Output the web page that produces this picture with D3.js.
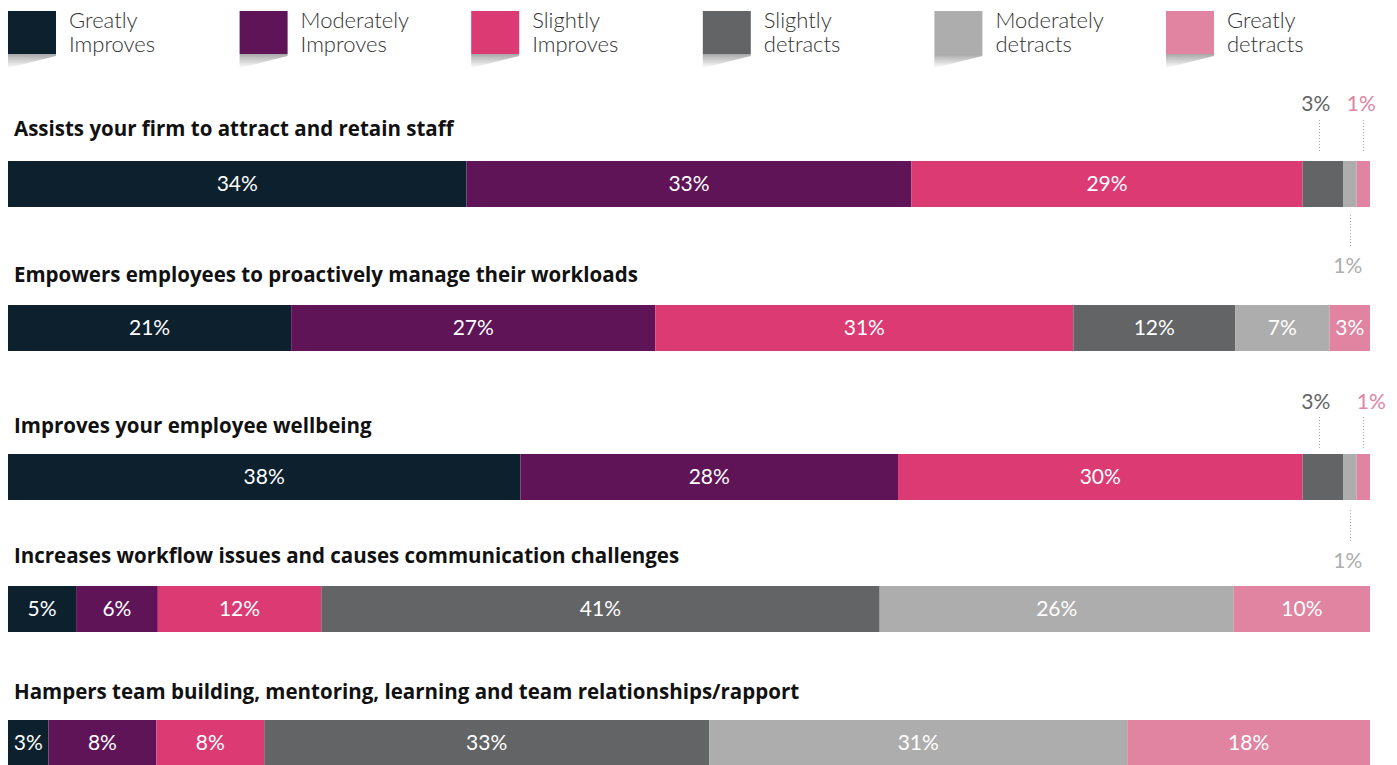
<!DOCTYPE html>
<html>
<head>
<meta charset="utf-8">
<script src="https://cdn.jsdelivr.net/npm/d3@7/dist/d3.min.js"></script>
<style>
  html, body { margin: 0; padding: 0; background: #fff; }
  svg { display: block; font-family: Lato, "Noto Sans", sans-serif; }
  .title { font-family: "Open Sans", "Noto Sans", sans-serif; }
</style>
</head>
<body>
<svg id="chart" width="1397" height="765"></svg>
<script>
// Response categories, left to right
const categories = [
  "Greatly Improves", "Moderately Improves", "Slightly Improves",
  "Slightly detracts", "Moderately detracts", "Greatly detracts"
];
const categoryColors = ["#0c202e", "#5e1457", "#dc3a72", "#636466", "#aeadad", "#e084a2"];

// Statements asked about
const statements = [
  "Assists your firm to attract and retain staff",
  "Empowers employees to proactively manage their workloads",
  "Improves your employee wellbeing",
  "Increases workflow issues and causes communication challenges",
  "Hampers team building, mentoring, learning and team relationships/rapport"
];

// Share of respondents (%) per statement, in category order
const attractRetain   = [34, 33, 29, 3, 1, 1];
const empowers        = [21, 27, 31, 12, 7, 3];
const wellbeing       = [38, 28, 30, 3, 1, 1];
const workflowIssues  = [5, 6, 12, 41, 26, 10];
const hampersTeam     = [3, 8, 8, 33, 31, 18];
const seriesValues = [attractRetain, empowers, wellbeing, workflowIssues, hampersTeam];

// Layout
const barLeft = 8, barRight = 1370, barH = 46;
const rowBarTop = [161, 305, 454, 586, 720];
const titleGap = [25, 23, 21, 23, 21];
// Callout placement: above (1) or below (-1) the bar, per category
const calloutSide = [0, 0, 0, 1, -1, 1];
const calloutDx = [[0, 0, 0, -7, -2, -2], null, [0, 0, 0, -7, -2, 8], null, null];
const aboveGeom = [{ l1: -41, l2: -9, t: -50 }, null, { l1: -37, l2: -6, t: -45 }];
const belowGeom = [{ l1: 8, l2: 40, t: 66 }, null, { l1: 10, l2: 41, t: 68 }];

const svg = d3.select("#chart");

// ---- Legend ----
const defs = svg.append("defs");
const grad = defs.append("linearGradient")
  .attr("id", "swatchShadow").attr("x1", 0).attr("y1", 0).attr("x2", 0).attr("y2", 1);
grad.append("stop").attr("offset", "0%").attr("stop-color", "#a8a8a8");
grad.append("stop").attr("offset", "100%").attr("stop-color", "#ffffff");

const legendX = d3.scalePoint().domain(categories).range([8, 1166]);
const legend = svg.append("g").selectAll("g").data(categories).join("g")
  .attr("transform", d => `translate(${legendX(d)},0)`);
legend.append("path")
  .attr("d", "M0,54 L48,54 L48,56 L0,68 Z")
  .attr("fill", "url(#swatchShadow)");
legend.append("rect")
  .attr("x", 0).attr("y", 11).attr("width", 48).attr("height", 43)
  .attr("fill", (d, i) => categoryColors[i]);
legend.each(function (d) {
  const parts = d.split(" ");
  parts.forEach((p, k) => {
    d3.select(this).append("text")
      .attr("x", 61).attr("y", 28 + k * 24)
      .attr("font-size", 22).attr("font-weight", 300).attr("fill", "#333")
      .text(p);
  });
});

// ---- Rows ----
statements.forEach((title, r) => {
  const vals = seriesValues[r];
  const total = d3.sum(vals);
  const x = d3.scaleLinear().domain([0, total]).range([barLeft, barRight]);
  const stacked = [];
  let acc = 0;
  vals.forEach((v, i) => { stacked.push({ v, i, x0: acc, x1: acc + v }); acc += v; });

  // Rows holding 1% slivers move their small detract shares outside the bar
  const hasSliver = d3.min(vals) <= 1;
  const isCallout = d => hasSliver && d.i >= 3 && d.v <= 3;

  const top = rowBarTop[r];
  const g = svg.append("g");

  g.append("text")
    .attr("class", "title")
    .attr("x", 14).attr("y", top - titleGap[r])
    .attr("font-size", 20.5).attr("font-weight", 700).attr("fill", "#111")
    .text(title);

  g.selectAll("rect").data(stacked).join("rect")
    .attr("x", d => x(d.x0)).attr("y", top)
    .attr("width", d => x(d.x1) - x(d.x0)).attr("height", barH)
    .attr("fill", d => categoryColors[d.i]);

  g.selectAll("text.val").data(stacked.filter(d => !isCallout(d))).join("text")
    .attr("class", "val")
    .attr("x", d => (x(d.x0) + x(d.x1)) / 2).attr("y", top + barH / 2 + 7)
    .attr("text-anchor", "middle").attr("font-size", 21).attr("font-weight", 400)
    .attr("fill", "#fff")
    .text(d => d.v + "%");

  stacked.filter(isCallout).forEach(d => {
    const cx = (x(d.x0) + x(d.x1)) / 2;
    const dx = calloutDx[r] ? calloutDx[r][d.i] : 0;
    const side = calloutSide[d.i];
    const color = categoryColors[d.i];
    const lineX = Math.round(cx + (d.i === 3 ? -4 : 0)) + 0.5;
    if (side > 0) {
      const gm = aboveGeom[r];
      g.append("line")
        .attr("x1", lineX).attr("x2", lineX).attr("y1", top + gm.l1).attr("y2", top + gm.l2)
        .attr("stroke", "#aaa").attr("stroke-width", 1).attr("stroke-dasharray", "1,2");
      g.append("text")
        .attr("x", cx + dx).attr("y", top + gm.t)
        .attr("text-anchor", "middle").attr("font-size", 21).attr("font-weight", 400)
        .attr("fill", color).text(d.v + "%");
    } else {
      const gm = belowGeom[r];
      g.append("line")
        .attr("x1", lineX).attr("x2", lineX).attr("y1", top + barH + gm.l1).attr("y2", top + barH + gm.l2)
        .attr("stroke", "#aaa").attr("stroke-width", 1).attr("stroke-dasharray", "1,2");
      g.append("text")
        .attr("x", cx + dx).attr("y", top + barH + gm.t)
        .attr("text-anchor", "middle").attr("font-size", 21).attr("font-weight", 400)
        .attr("fill", color).text(d.v + "%");
    }
  });
});
</script>
</body>
</html>
